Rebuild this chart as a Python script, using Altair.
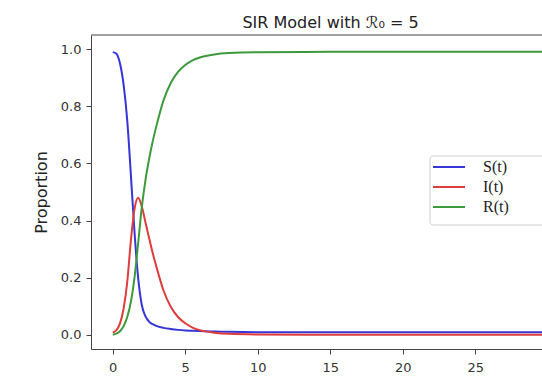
import altair as alt
import pandas as pd

# values
t_vals = [0.0, 0.25, 0.5, 0.75, 1.0, 1.25, 1.5, 1.75, 2.0, 2.25, 2.5, 2.75, 3.0,
          3.5, 4.0, 4.5, 5.0, 5.5, 6.0, 7.0, 8.0, 10.0, 15.0, 20.0, 25.0, 30.0]
S_vals = [0.990, 0.984, 0.950, 0.875, 0.750, 0.560, 0.360, 0.200, 0.105, 0.065, 0.046,
          0.037, 0.031, 0.024, 0.020, 0.017, 0.015, 0.014, 0.013, 0.011, 0.010, 0.009,
          0.009, 0.009, 0.009, 0.009]
I_vals = [0.008, 0.016, 0.040, 0.092, 0.185, 0.330, 0.440, 0.480, 0.450, 0.395, 0.340,
          0.287, 0.240, 0.155, 0.098, 0.062, 0.040, 0.025, 0.016, 0.007, 0.003, 0.001,
          0.000, 0.000, 0.000, 0.000]
R_vals = [0.000, 0.004, 0.012, 0.030, 0.062, 0.115, 0.200, 0.320, 0.445, 0.540, 0.614,
          0.676, 0.729, 0.821, 0.882, 0.921, 0.945, 0.961, 0.971, 0.982, 0.987, 0.990,
          0.991, 0.991, 0.991, 0.991]
series_names = ["S(t)", "I(t)", "R(t)"]
series_colors = ["#3535d8", "#e03c3c", "#3c9a3c"]
x_ticks = [0, 5, 10, 15, 20, 25, 30]
y_ticks = [0.0, 0.2, 0.4, 0.6, 0.8, 1.0]

rows = []
for name, vals in zip(series_names, [S_vals, I_vals, R_vals]):
    for t, v in zip(t_vals, vals):
        rows.append({"t": t, "value": v, "series": name})
df = pd.DataFrame(rows)

# legend frame (decoration; extends past the right edge like the reference)
legend_box = alt.Chart(pd.DataFrame({"k": [0]})).mark_rect(
    fill="white", stroke="#d0d0d0", strokeWidth=1, cornerRadius=3
).encode(x=alt.value(339), x2=alt.value(470), y=alt.value(121), y2=alt.value(190))

lines = alt.Chart(df).mark_line(strokeWidth=2, interpolate="monotone", clip=True).encode(
    x=alt.X("t:Q", scale=alt.Scale(domain=[-1.5, 29.6], nice=False, zero=False),
            axis=alt.Axis(values=x_ticks, title=None, grid=False, tickSize=5,
                          labelPadding=7, domainColor="#444", tickColor="#444")),
    y=alt.Y("value:Q", scale=alt.Scale(domain=[-0.05, 1.05], nice=False, zero=False),
            axis=alt.Axis(values=y_ticks, format=".1f", title="Proportion", grid=False,
                          tickSize=5, labelPadding=5, titlePadding=11,
                          domainColor="#444", tickColor="#444")),
    color=alt.Color("series:N",
                    scale=alt.Scale(domain=series_names, range=series_colors),
                    sort=series_names,
                    legend=alt.Legend(title=None, orient="none", legendX=339, legendY=121,
                                      symbolType="M-1,0H3", symbolSize=256,
                                      symbolStrokeWidth=2, labelOffset=33,
                                      labelFont="Liberation Serif", labelFontSize=16,
                                      labelColor="#222", rowPadding=3, padding=2,
                                      strokeColor="transparent")),
)

top_rule = alt.Chart(pd.DataFrame({"k": [0]})).mark_rule(color="#444", strokeWidth=1).encode(
    x=alt.value(0), x2=alt.value(451), y=alt.value(0)
)

chart = alt.layer(legend_box, lines, top_rule).properties(
    width=451, height=314,
    title=alt.TitleParams("SIR Model with ℛ₀ = 5", fontSize=16, font="DejaVu Sans",
                          fontWeight="normal", color="#222", dx=14, offset=4),
    autosize=alt.AutoSizeParams(type="none"),
    padding={"left": 91, "top": 35, "right": 0, "bottom": 29},
).configure_view(stroke=None).configure_axis(
    labelFont="DejaVu Sans", labelFontSize=13, labelColor="#333",
    titleFont="DejaVu Sans", titleFontSize=16, titleFontWeight="normal", titleColor="#222",
    domainWidth=1,
)

chart.save("out.html", embed_options={"renderer": "svg", "actions": False})
